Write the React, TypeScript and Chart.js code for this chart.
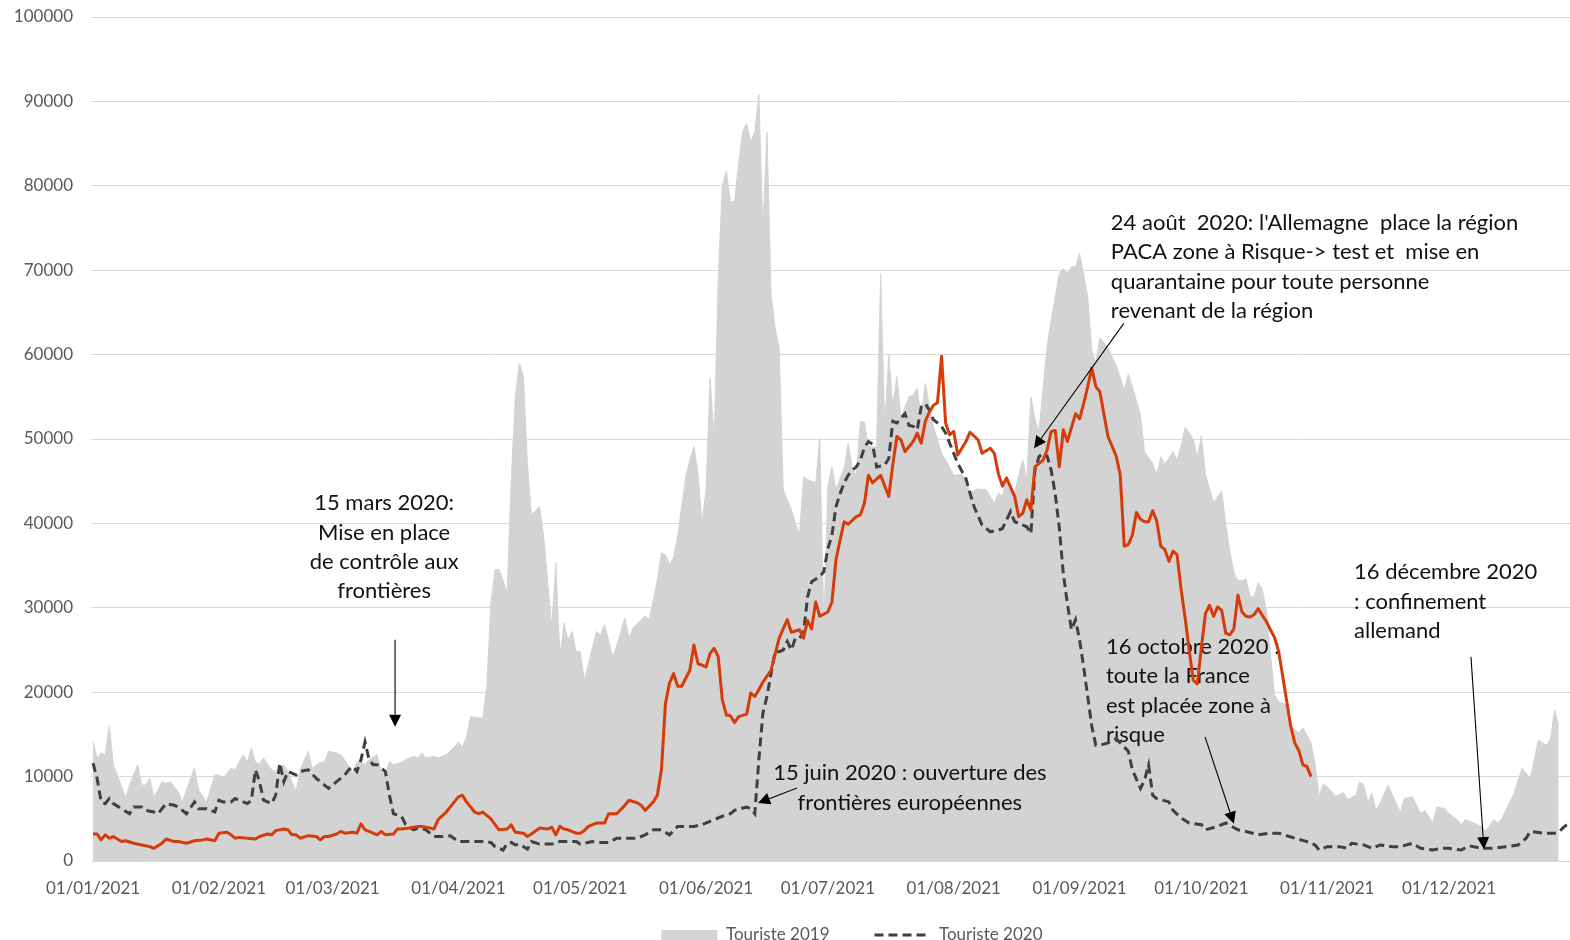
import React, { useEffect, useRef } from 'react';
import { Chart, registerables } from 'chart.js';

Chart.register(...registerables);
Chart.defaults.font.family = 'Lato';

// ---- axis / category data ----
const MONTH_START_DAYS = [0, 31, 59, 90, 120, 151, 181, 212, 243, 273, 304, 334];
const MONTH_LABELS = [
  '01/01/2021', '01/02/2021', '01/03/2021', '01/04/2021', '01/05/2021', '01/06/2021',
  '01/07/2021', '01/08/2021', '01/09/2021', '01/10/2021', '01/11/2021', '01/12/2021',
];
const Y_MIN = 0;
const Y_MAX = 100000;
const Y_STEP = 10000;

// ---- Touriste 2019 (grey area): day of year -> value ----
const T2019_DAYS = [
  0, 1, 2, 3, 4, 5, 6, 8, 9, 11, 12, 13, 14, 15, 16, 17, 18, 19, 21, 22, 23, 25, 26, 28, 30, 31, 32, 34, 35, 37,
  38, 39, 40, 41, 42, 44, 45, 47, 48, 50, 51, 53, 54, 56, 57, 58, 60, 61, 62, 64, 65, 67, 68, 70, 71, 72, 73, 74, 76, 77,
  79, 80, 81, 82, 84, 85, 87, 89, 90, 91, 92, 93, 96, 97, 98, 99, 100, 102, 103, 104, 105, 106, 107, 108, 110, 111, 112, 113, 114, 115,
  116, 117, 118, 119, 120, 121, 124, 125, 126, 128, 129, 131, 132, 133, 135, 136, 137, 138, 139, 140, 141, 142, 143, 144, 145, 146, 147, 148, 149, 150,
  151, 152, 153, 154, 155, 156, 157, 158, 159, 160, 161, 162, 163, 164, 165, 166, 167, 168, 169, 170, 172, 173, 174, 175, 176, 178, 179, 180, 181, 182,
  183, 185, 186, 187, 188, 189, 190, 191, 193, 194, 195, 196, 197, 198, 199, 201, 202, 203, 204, 205, 207, 209, 210, 212, 214, 215, 216, 218, 219, 220,
  222, 223, 224, 225, 227, 228, 229, 230, 231, 232, 233, 235, 236, 238, 239, 240, 241, 242, 243, 245, 246, 247, 248, 250, 252, 254, 255, 256, 258, 259,
  261, 262, 263, 264, 266, 267, 268, 269, 271, 272, 273, 274, 276, 278, 279, 280, 281, 282, 283, 284, 285, 286, 287, 288, 289, 290, 291, 292, 294, 295,
  297, 298, 300, 301, 302, 303, 304, 306, 308, 309, 311, 312, 313, 314, 315, 316, 317, 319, 321, 322, 323, 325, 327, 328, 330, 331, 333, 334, 336, 337,
  338, 340, 342, 343, 345, 346, 347, 350, 352, 354, 356, 358, 359, 360, 361,
];
const T2019_VALUES = [
  14100, 12200, 12800, 12600, 16100, 11400, 10200, 7500, 9000, 11400, 9000, 9000, 9800, 7600, 8400, 9400, 9200, 9400, 8200, 7000, 8400, 11000, 8400, 7000, 10200, 10200, 9800, 11000, 10800, 12600,
  11700, 13400, 11700, 11500, 12200, 10800, 10600, 11400, 10600, 8200, 10800, 13000, 11000, 11700, 11700, 13000, 12800, 12600, 12000, 10400, 11700, 11500, 12000, 12600, 10600, 10200, 11800, 11400, 11700, 12000,
  12400, 12200, 12800, 12200, 12400, 12200, 12600, 13500, 14100, 13500, 14700, 17100, 16900, 20700, 30600, 34500, 34600, 31800, 45000, 55000, 59000, 57400, 47000, 41000, 42000, 38400, 33000, 27800, 35300, 24200,
  28200, 26200, 27200, 24800, 24800, 21400, 27200, 26800, 28000, 24200, 25500, 28800, 26400, 27600, 28600, 29000, 28600, 30900, 33300, 36500, 36300, 35100, 36000, 38500, 42000, 45500, 47500, 49100, 46000, 40000,
  44000, 57200, 49700, 69200, 80100, 81700, 78100, 78100, 82700, 86400, 87400, 85200, 86400, 90800, 74600, 86400, 67300, 63100, 60900, 44000, 41600, 40000, 38600, 45500, 45200, 44800, 50100, 27800, 44400, 46700,
  44000, 46600, 49500, 46600, 45700, 52100, 52000, 49100, 49000, 69600, 51500, 60000, 53800, 57400, 52600, 55000, 55200, 56000, 52600, 56600, 51500, 48300, 47500, 45700, 45800, 45200, 43600, 44100, 44000, 44000,
  42400, 43600, 43200, 45200, 43600, 45700, 47500, 45200, 55000, 52300, 51000, 61000, 64100, 69600, 70200, 69600, 70400, 70400, 72000, 66900, 60600, 59000, 62000, 60800, 58700, 55800, 57700, 56200, 52900, 48500,
  47100, 45800, 47900, 47000, 48500, 47500, 49200, 51400, 50000, 47900, 50400, 45800, 42500, 43800, 40000, 36700, 34200, 33200, 33200, 33400, 31300, 31300, 33000, 32200, 29700, 24700, 19700, 18900, 18500, 16000,
  15200, 15800, 14000, 11500, 7700, 9100, 8800, 7700, 8100, 7300, 7800, 9400, 9000, 7000, 8000, 6000, 6800, 9000, 6800, 5800, 7400, 7600, 5600, 6000, 4500, 6400, 6200, 5600, 4900, 4300,
  4900, 4500, 4100, 3500, 4900, 4500, 5000, 8000, 11000, 9800, 14300, 13700, 14500, 17900, 16000,
];

// ---- Touriste 2020 (dashed line) ----
const T2020_DAYS = [
  0, 1, 2, 3, 4, 5, 7, 9, 10, 12, 13, 15, 16, 18, 20, 21, 23, 25, 26, 28, 30, 31, 32, 34, 35, 37, 38, 39, 40, 41,
  42, 43, 44, 45, 46, 47, 48, 50, 51, 53, 55, 56, 58, 60, 62, 63, 64, 65, 66, 67, 68, 69, 70, 71, 72, 73, 74, 76, 77, 79,
  80, 82, 84, 86, 88, 90, 94, 96, 98, 99, 101, 102, 103, 104, 105, 107, 108, 110, 113, 115, 117, 119, 120, 123, 125, 127, 129, 131, 134, 136,
  138, 140, 142, 144, 145, 148, 150, 153, 155, 157, 158, 161, 162, 163, 164, 165, 166, 167, 168, 169, 170, 171, 172, 173, 174, 175, 176, 177, 179, 180,
  181, 182, 183, 184, 185, 186, 187, 188, 189, 190, 191, 192, 193, 195, 196, 197, 198, 200, 201, 202, 203, 204, 205, 206, 207, 209, 210, 212, 213, 215,
  216, 217, 219, 221, 223, 224, 226, 227, 228, 230, 231, 232, 233, 234, 235, 236, 237, 238, 239, 240, 241, 242, 243, 244, 245, 246, 247, 248, 250, 252,
  253, 255, 256, 258, 259, 260, 261, 262, 265, 266, 268, 270, 273, 274, 277, 279, 282, 284, 287, 290, 292, 296, 299, 301, 302, 304, 307, 309, 310, 313,
  315, 317, 320, 322, 325, 327, 330, 332, 334, 337, 339, 342, 345, 348, 351, 353, 354, 357, 360, 361, 362, 363, 364,
];
const T2020_VALUES = [
  11600, 9800, 7000, 6800, 7400, 6800, 6200, 5600, 6400, 6400, 6000, 5800, 5600, 6800, 6600, 6400, 5600, 7000, 6200, 6200, 5800, 7200, 7000, 7000, 7400, 7000, 6800, 7200, 10800, 9400,
  7200, 7000, 6800, 7800, 11600, 9400, 10600, 10200, 10600, 10800, 9800, 9400, 8600, 9400, 10200, 10800, 11200, 10600, 12000, 14100, 12000, 11400, 11400, 11000, 10600, 7800, 5600, 5300, 4300, 3700,
  3900, 3700, 2900, 2900, 3000, 2300, 2300, 2300, 2200, 1700, 1300, 2100, 2200, 1900, 2000, 1400, 2300, 2000, 2000, 2300, 2300, 2300, 2000, 2300, 2200, 2200, 2700, 2700, 2700, 3100,
  3700, 3700, 3100, 4100, 4100, 4100, 4300, 4900, 5300, 5600, 6000, 6400, 6200, 5600, 12000, 17500, 19500, 22200, 24800, 24800, 25000, 26000, 25000, 26400, 26400, 27000, 31300, 33100, 33700, 34300,
  37000, 38600, 42000, 43500, 44800, 45700, 46300, 46700, 47500, 49000, 49700, 49400, 46700, 46900, 47700, 52100, 51900, 53000, 51600, 51500, 51100, 53800, 54200, 53400, 52300, 51500, 50700, 48300, 47100, 45300,
  43600, 42000, 39800, 39000, 39200, 39400, 41400, 40200, 40000, 39600, 38800, 46300, 47900, 48300, 48000, 46300, 43500, 39500, 34000, 30500, 27400, 28600, 26200, 23000, 19500, 16000, 13700, 13700, 14000, 14500,
  14000, 13000, 10800, 8600, 9600, 11400, 7800, 7400, 7000, 6000, 5100, 4500, 4300, 3700, 4100, 4500, 3700, 3500, 3100, 3300, 3300, 2700, 2300, 1900, 1300, 1700, 1700, 1500, 2100, 1900,
  1500, 1900, 1700, 1700, 2100, 1500, 1300, 1500, 1500, 1300, 1800, 1500, 1500, 1700, 1900, 2700, 3500, 3300, 3300, 3400, 3900, 4300, 4600,
];

// ---- Touriste 2021 (orange line) ----
const T2021_DAYS = [
  0, 1, 2, 3, 4, 5, 7, 8, 10, 12, 14, 15, 17, 18, 20, 21, 23, 25, 27, 28, 30, 31, 33, 34, 35, 36, 38, 40, 41, 43,
  44, 45, 47, 48, 49, 50, 51, 53, 55, 56, 57, 58, 60, 61, 62, 64, 65, 66, 67, 68, 70, 71, 72, 74, 75, 76, 78, 80, 81, 83,
  84, 85, 87, 89, 90, 91, 92, 94, 95, 96, 98, 100, 102, 103, 104, 106, 107, 108, 110, 112, 113, 114, 115, 116, 117, 119, 120, 121, 122, 124,
  126, 127, 129, 130, 131, 132, 134, 135, 136, 138, 139, 140, 141, 142, 143, 144, 145, 147, 148, 149, 151, 152, 153, 154, 155, 156, 157, 158, 159, 161,
  162, 163, 164, 165, 167, 169, 171, 172, 174, 175, 176, 177, 178, 179, 181, 182, 183, 184, 185, 186, 188, 189, 190, 191, 192, 194, 196, 197, 198, 199,
  200, 202, 203, 204, 205, 206, 207, 208, 209, 210, 211, 212, 213, 215, 216, 218, 219, 221, 222, 223, 224, 225, 227, 228, 229, 230, 231, 232, 234, 235,
  236, 237, 238, 239, 240, 242, 243, 244, 245, 246, 247, 248, 250, 252, 253, 254, 255, 256, 257, 258, 259, 260, 261, 262, 263, 264, 265, 266, 267, 268,
  269, 270, 271, 272, 273, 274, 275, 276, 277, 278, 279, 280, 281, 282, 283, 284, 285, 286, 287, 288, 289, 290, 291, 292, 293, 294, 295, 296, 297, 298,
  299, 300,
];
const T2021_VALUES = [
  3200, 3200, 2500, 3100, 2700, 2900, 2300, 2400, 2100, 1900, 1700, 1500, 2100, 2600, 2300, 2300, 2100, 2400, 2500, 2600, 2400, 3300, 3400, 3100, 2700, 2800, 2700, 2600, 2900, 3200,
  3100, 3600, 3800, 3700, 3100, 3100, 2700, 3000, 2900, 2500, 2900, 2900, 3200, 3500, 3300, 3400, 3300, 4400, 3700, 3500, 3100, 3500, 3100, 3200, 3800, 3800, 3900, 4100, 4100, 3900,
  3800, 4900, 5800, 7000, 7600, 7800, 7000, 5800, 5600, 5800, 5000, 3700, 3800, 4300, 3400, 3300, 2900, 3200, 3900, 3800, 4000, 3100, 4100, 3800, 3700, 3300, 3300, 3600, 4100, 4500,
  4500, 5600, 5600, 6100, 6600, 7200, 6900, 6600, 6000, 7000, 7800, 10800, 18700, 21100, 22200, 20700, 20700, 22600, 25600, 23400, 23000, 24600, 25200, 24200, 19100, 17300, 17200, 16400, 17100, 17400,
  19900, 19500, 20300, 21200, 22600, 26400, 28600, 27100, 27400, 26400, 28500, 27500, 30700, 29000, 29500, 30700, 35700, 38000, 40200, 39900, 40800, 41000, 42400, 45700, 44800, 45700, 43200, 47000, 50300, 49900,
  48500, 49700, 50700, 49500, 52100, 53200, 54000, 54300, 59800, 51900, 50500, 50900, 48100, 49700, 50800, 49900, 48300, 48900, 48300, 45900, 44400, 45400, 43200, 40800, 41200, 42800, 41600, 46700, 47500, 48700,
  50900, 51000, 46700, 51100, 49700, 53000, 52400, 54200, 56200, 58400, 56200, 55600, 50300, 48000, 45800, 37300, 37500, 38600, 41300, 40500, 40200, 40200, 41500, 40300, 37300, 36900, 35500, 36700, 36300, 32200,
  28800, 25000, 21400, 21000, 25300, 29300, 30300, 29000, 30100, 29700, 27000, 26800, 27500, 31500, 29500, 29000, 28900, 29200, 29900, 29100, 28400, 27400, 26500, 24900, 22000, 19000, 16000, 14000, 13100, 11400,
  11200, 10000,
];

// ---- styling ----
const GREY_FILL = '#d3d3d3';
const DASH_COLOR = '#404040';
const ORANGE = '#d63c0a';
const AXIS_TEXT = '#595959';
const GRID = '#d9d9d9';
const NOTE_COLOR = '#111111';

const CANVAS_W = 1704;
const CANVAS_H = 973;
const X_MIN = -0.5;
const X_MAX = 396.8;
const LEGEND_SHIFT = 19.5;

type Note = {
  lines: string[];
  day: number;
  value: number;
  align: CanvasTextAlign;
  from: [number, number];
  to: [number, number];
};

const NOTES: Note[] = [
  {
    lines: ['15 mars 2020:', 'Mise en place', 'de contrôle aux', 'frontières'],
    day: 71.7, value: 42400, align: 'center', from: [74.4, 26200], to: [74.4, 15900],
  },
  {
    lines: ['15 juin 2020 : ouverture des', 'frontières européennes'],
    day: 201.2, value: 10400, align: 'center', from: [173.4, 8650], to: [163.8, 6870],
  },
  {
    lines: [
      "24 août  2020: l'Allemagne  place la région",
      'PACA zone à Risque-> test et  mise en',
      'quarantaine pour toute personne',
      'revenant de la région',
    ],
    day: 250.7, value: 75600, align: 'left', from: [253.9, 63700], to: [231.8, 48900],
  },
  {
    lines: ['16 octobre 2020 :', 'toute la France', 'est placée zone à', 'risque'],
    day: 249.5, value: 25400, align: 'left', from: [273.9, 14700], to: [281, 4400],
  },
  {
    lines: ['16 décembre 2020', ': confinement', 'allemand'],
    day: 310.6, value: 34200, align: 'left', from: [339.4, 24200], to: [342.6, 1400],
  },
];

const NOTE_FONT = '22px Lato';
const NOTE_LINE_H = 29.4;

function toPoints(days: number[], values: number[]) {
  return days.map((d, i) => ({ x: d, y: values[i] }));
}

function drawArrow(ctx: CanvasRenderingContext2D, x1: number, y1: number, x2: number, y2: number) {
  const ang = Math.atan2(y2 - y1, x2 - x1);
  const headLen = 12;
  const headW = 6;
  const bx = x2 - headLen * Math.cos(ang);
  const by = y2 - headLen * Math.sin(ang);
  ctx.beginPath();
  ctx.moveTo(x1, y1);
  ctx.lineTo(bx, by);
  ctx.stroke();
  ctx.beginPath();
  ctx.moveTo(x2, y2);
  ctx.lineTo(bx + headW * Math.sin(ang), by - headW * Math.cos(ang));
  ctx.lineTo(bx - headW * Math.sin(ang), by + headW * Math.cos(ang));
  ctx.closePath();
  ctx.fill();
}

const notesPlugin = {
  id: 'notes',
  afterLayout(chart: any) {
    const lg = chart.legend;
    if (lg) {
      lg.top -= LEGEND_SHIFT;
      lg.bottom -= LEGEND_SHIFT;
    }
  },
  // texts sit above the grey area but under the two lines
  afterDatasetDraw(chart: any, args: any) {
    if (args.index !== 0) return;
    const { ctx, scales } = chart;
    ctx.save();
    ctx.font = NOTE_FONT;
    ctx.fillStyle = NOTE_COLOR;
    ctx.textBaseline = 'middle';
    NOTES.forEach((n) => {
      const x = scales.x.getPixelForValue(n.day);
      const y = scales.y.getPixelForValue(n.value);
      ctx.textAlign = n.align;
      n.lines.forEach((line, i) => ctx.fillText(line, x, y + i * NOTE_LINE_H));
    });
    ctx.restore();
  },
  afterDatasetsDraw(chart: any) {
    const { ctx, scales } = chart;
    ctx.save();
    ctx.strokeStyle = '#000000';
    ctx.fillStyle = '#000000';
    ctx.lineWidth = 1.1;
    NOTES.forEach((n) => {
      drawArrow(
        ctx,
        scales.x.getPixelForValue(n.from[0]),
        scales.y.getPixelForValue(n.from[1]),
        scales.x.getPixelForValue(n.to[0]),
        scales.y.getPixelForValue(n.to[1]),
      );
    });
    ctx.restore();
  },
};

export default function App() {
  const ref = useRef<HTMLCanvasElement>(null);

  useEffect(() => {
    if (!ref.current) return;
    const chart = new Chart(ref.current, {
      type: 'line',
      data: {
        datasets: [
          {
            label: 'Touriste 2019',
            data: toPoints(T2019_DAYS, T2019_VALUES),
            fill: 'origin',
            backgroundColor: GREY_FILL,
            borderColor: GREY_FILL,
            borderWidth: 1,
            pointRadius: 0,
            order: 3,
          },
          {
            label: 'Touriste 2020',
            data: toPoints(T2020_DAYS, T2020_VALUES),
            fill: false,
            borderColor: DASH_COLOR,
            borderWidth: 3,
            borderDash: [9, 5],
            pointRadius: 0,
            order: 2,
          },
          {
            label: 'Touriste 2021',
            data: toPoints(T2021_DAYS, T2021_VALUES),
            fill: false,
            borderColor: ORANGE,
            borderWidth: 3,
            borderJoinStyle: 'round',
            pointRadius: 0,
            order: 1,
          },
        ],
      },
      options: {
        animation: false,
        responsive: false,
        maintainAspectRatio: false,
        layout: { padding: { top: 17, left: 0, right: 0, bottom: 0 } },
        elements: { line: { tension: 0 }, point: { radius: 0 } },
        plugins: {
          tooltip: { enabled: false },
          legend: {
            position: 'bottom',
            labels: {
              color: AXIS_TEXT,
              font: { size: 17, family: 'Lato' },
              usePointStyle: true,
              pointStyleWidth: 56,
              boxHeight: 10,
              padding: 45,
              generateLabels: () => [
                {
                  text: 'Touriste 2019',
                  fillStyle: GREY_FILL,
                  strokeStyle: GREY_FILL,
                  lineWidth: 0,
                  pointStyle: 'rect',
                  hidden: false,
                  datasetIndex: 0,
                  fontColor: AXIS_TEXT,
                },
                {
                  text: 'Touriste 2020',
                  fillStyle: 'rgba(0,0,0,0)',
                  strokeStyle: DASH_COLOR,
                  lineWidth: 3,
                  lineDash: [9, 5],
                  pointStyle: 'line',
                  hidden: false,
                  datasetIndex: 1,
                  fontColor: AXIS_TEXT,
                },
              ],
            },
          },
        },
        scales: {
          x: {
            type: 'linear',
            min: X_MIN,
            max: X_MAX,
            afterBuildTicks: (scale: any) => {
              scale.ticks = MONTH_START_DAYS.map((v) => ({ value: v }));
            },
            afterFit: (scale: any) => {
              scale.height = 40;
            },
            grid: { display: false, drawTicks: false },
            border: { display: true, color: GRID },
            ticks: {
              autoSkip: false,
              maxRotation: 0,
              padding: 17,
              color: AXIS_TEXT,
              font: { size: 17, family: 'Lato' },
              callback: (v: any) => {
                const i = MONTH_START_DAYS.indexOf(Number(v));
                return i >= 0 ? MONTH_LABELS[i] : '';
              },
            },
          },
          y: {
            min: Y_MIN,
            max: Y_MAX,
            afterFit: (scale: any) => {
              scale.width = 91;
              scale.paddingTop = 10;
              scale.paddingBottom = 10;
            },
            grid: { color: GRID, drawTicks: false },
            border: { display: false },
            ticks: {
              stepSize: Y_STEP,
              padding: 18,
              color: AXIS_TEXT,
              font: { size: 17, family: 'Lato' },
              callback: (v: any) => String(v),
            },
          },
        },
      },
      plugins: [notesPlugin],
    } as any);
    return () => chart.destroy();
  }, []);

  return (
    <div
      style={{
        position: 'absolute',
        left: 0,
        top: 0,
        width: 1570,
        height: 940,
        overflow: 'hidden',
        background: '#ffffff',
      }}
    >
      <canvas
        ref={ref}
        width={CANVAS_W}
        height={CANVAS_H}
        style={{ display: 'block', width: CANVAS_W, height: CANVAS_H }}
      />
    </div>
  );
}
